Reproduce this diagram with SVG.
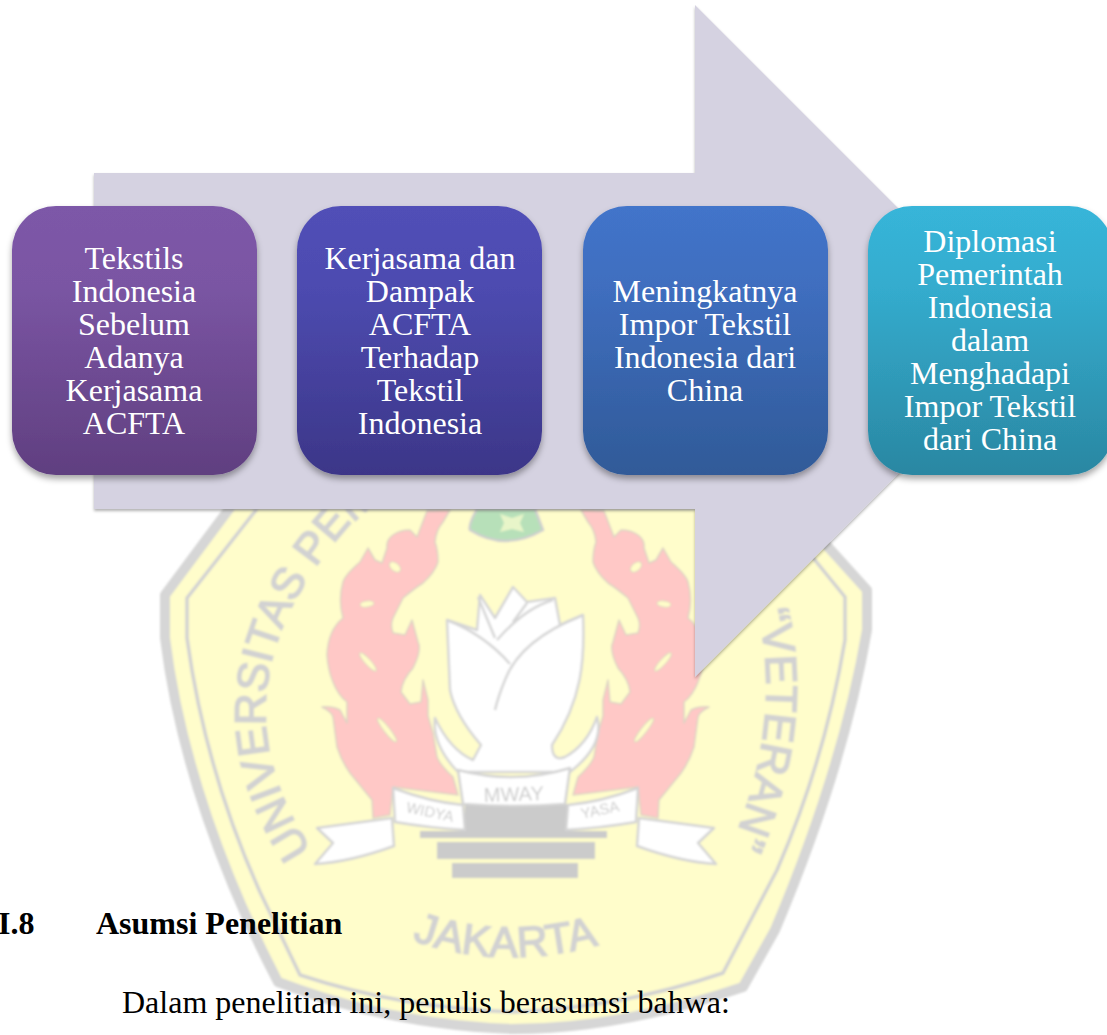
<svg xmlns="http://www.w3.org/2000/svg" xmlns:xlink="http://www.w3.org/1999/xlink" width="1107" height="1035" viewBox="0 0 1107 1035">
<style>
.n{font-family:"Liberation Serif","Times New Roman",serif;font-size:32px;fill:#fff;text-anchor:middle}
.b{font-family:"Liberation Serif","Times New Roman",serif;font-size:32px;fill:#000}
.w{font-family:"Liberation Sans",Arial,sans-serif;fill:#d2d2d2;stroke:#d2d2d2;stroke-width:1.6}
.l{font-family:"Liberation Sans",Arial,sans-serif;fill:#cdcdcd;text-anchor:middle}
.r{fill:#fff;stroke:#d4d4d4;stroke-width:2.5;stroke-linejoin:round}
.f{fill:#ffc8c6;stroke:#ddd4c4;stroke-width:1.5;stroke-linejoin:round}
.h{fill:#fffdc9;stroke:#ddd9c0;stroke-width:1}
.g{fill:#cbcbcb}
</style>
<defs>
<linearGradient id="g1" x1="0" y1="0" x2="0" y2="1"><stop offset="0" stop-color="#7d58a8"/><stop offset=".3" stop-color="#7a55a3"/><stop offset="1" stop-color="#603f80"/></linearGradient>
<linearGradient id="g2" x1="0" y1="0" x2="0" y2="1"><stop offset="0" stop-color="#514fb7"/><stop offset=".3" stop-color="#4d4bb0"/><stop offset="1" stop-color="#3c3688"/></linearGradient>
<linearGradient id="g3" x1="0" y1="0" x2="0" y2="1"><stop offset="0" stop-color="#4274ca"/><stop offset=".3" stop-color="#3f6ebf"/><stop offset="1" stop-color="#305a98"/></linearGradient>
<linearGradient id="g4" x1="0" y1="0" x2="0" y2="1"><stop offset="0" stop-color="#37b5d9"/><stop offset=".3" stop-color="#34acce"/><stop offset="1" stop-color="#2a87a2"/></linearGradient>
<filter id="s" x="-10%" y="-10%" width="120%" height="120%"><feDropShadow dx="0" dy="4" stdDeviation="3" flood-color="#000" flood-opacity=".35"/></filter>
<filter id="sa" x="-5%" y="-5%" width="110%" height="110%"><feDropShadow dx="0" dy="2" stdDeviation="1.5" flood-color="#000" flood-opacity=".3"/></filter>
<filter id="bl" x="-5%" y="-5%" width="110%" height="110%"><feGaussianBlur stdDeviation="1"/></filter>
<g id="half">
<path class="f" d="M450 510 L427 511 L417 537 L410 530 Q400 530 393 535 Q386 540 387 548 L382 563 L375 560 L368 548 L360 562 Q345 575 343 582 Q338 600 343 618 Q328 630 327 655 Q328 670 333 682 Q338 695 347 702 L347 723 L340 710 Q332 706 322 707 Q332 712 333 717 L337 747 Q342 762 350 773 L372 800 L373 818 L390 815 L393 787 L458 795 L453 777 Q440 765 437 757 L433 733 L428 716 L428 700 L423 680 L421 702 L410 704 L401 692 Q402 680 413 668 Q422 650 418 642 L412 620 L405 635 L393 633 Q390 625 393 618 L403 598 Q415 588 423 583 Q435 572 438 562 Q438 550 435 542 Q436 530 443 522Z"/>
<ellipse class="h" cx="395" cy="567" rx="6.5" ry="4" transform="rotate(40 395 567)"/>
<ellipse class="h" cx="367" cy="604" rx="7" ry="3" transform="rotate(-8 367 604)"/>
<ellipse class="h" cx="368" cy="662" rx="12" ry="3" transform="rotate(48 368 662)"/>
<ellipse class="h" cx="387" cy="730" rx="15" ry="3" transform="rotate(52 387 730)"/>
</g>
<g id="ribbon">
<path class="r" d="M393 788 Q430 802 463 805 L465 830 Q430 828 395 822Z"/>
<path class="r" d="M317 828 L392 818 L394 846 Q350 862 315 864 L333 843Z"/>
</g>
</defs>
<rect width="1107" height="1035" fill="#fff"/>
<g id="watermark" filter="url(#bl)">
<path d="M165 595 L232 505 H790 L867 590 L867 630 C855 700 830 800 775 930 L743 987 Q620 1029 513 1029 Q390 1025 278 982 C225 880 180 760 165 638Z" fill="#fffdcb" stroke="#d6d6d6" stroke-width="10" stroke-linejoin="round"/>
<path d="M187 598 L260 505 H770 L845 597 L845 640 Q825 760 777 870 L723 973 Q620 1008 513 1012 Q400 1008 300 975 L260 892 Q205 770 187 638Z" fill="none" stroke="#d2d2d2" stroke-width="3.5" stroke-linejoin="round"/>
<use xlink:href="#half"/>
<use xlink:href="#half" transform="translate(1031 0) scale(-1 1)"/>
<path d="M477 509 Q468 525 470 530 Q505 552 543 530 L535 509Z" fill="#b7e0b9" stroke="#cfcfcf" stroke-width="2.5"/>
<path d="M500 514 l12 4 l12 -4 l-4 9 l4 9 l-12 -3 l-12 3 l4 -9z" fill="#e8f5c9"/>
<path d="M447 620 L477 630 L480 595 L495 618 L513 587 L527 602 L555 598 L560 625 L583 615 C585 660 582 700 552 745 Q552 762 565 757 Q587 745 597 717 Q605 745 570 772 L458 772 Q432 745 435 718 Q450 750 473 760 L481 745 Q455 715 450 690Z" fill="#fff" stroke="#d6d6d6" stroke-width="2.5" stroke-linejoin="round"/>
<path d="M447 620 Q485 635 510 664 M583 615 Q520 640 505 680 Q498 697 495 710 M553 600 Q525 608 497 640 M478 597 L495 638 M527 603 L513 622" fill="none" stroke="#d6d6d6" stroke-width="2.5"/>
<rect class="g" x="465" y="804" width="102" height="30"/>
<rect class="g" x="420" y="831" width="187" height="7"/>
<rect class="g" x="437" y="842" width="158" height="17"/>
<rect class="g" x="452" y="863" width="126" height="15"/>
<path class="r" d="M458 770 Q515 785 570 768 L565 804 Q515 808 463 804Z"/>
<use xlink:href="#ribbon"/>
<use xlink:href="#ribbon" transform="translate(1031 0) scale(-1 1)"/>
<text class="l" x="514" y="801" font-size="20" transform="rotate(-2 514 801)">MWAY</text>
<text class="l" x="429" y="817" font-size="15" transform="rotate(12 429 817)">WIDYA</text>
<text class="l" x="601" y="815" font-size="15" transform="rotate(-12 601 815)">YASA</text>
<path id="a1" d="M312 850 Q205 690 345 530 L390 490" fill="none"/>
<path id="a2" d="M758 612 Q785 730 725 860" fill="none"/>
<path id="a3" d="M412 940 Q513 975 620 938" fill="none"/>
<text class="w" font-size="44"><textPath xlink:href="#a1">UNIVERSITAS PEM</textPath></text>
<text class="w" font-size="44"><textPath xlink:href="#a2">“VETERAN”</textPath></text>
<text class="w" font-size="43"><textPath xlink:href="#a3">JAKARTA</textPath></text>
</g>
<g id="connectors">
<path id="arrow" d="M94 173 H695 V5 L1031 341 L695 677 V509 H94Z" fill="#d5d2e1" filter="url(#sa)"/>
</g>
<g id="node1"><rect x="12" y="206" width="245" height="269" rx="44" fill="url(#g1)" filter="url(#s)"/>
<text class="n"><tspan x="134" y="269">Tekstils</tspan><tspan x="134" y="302">Indonesia</tspan><tspan x="134" y="335">Sebelum</tspan><tspan x="134" y="368">Adanya</tspan><tspan x="134" y="401">Kerjasama</tspan><tspan x="134" y="434">ACFTA</tspan></text></g>
<g id="node2"><rect x="297" y="206" width="245" height="269" rx="44" fill="url(#g2)" filter="url(#s)"/>
<text class="n"><tspan x="420" y="269">Kerjasama dan</tspan><tspan x="420" y="302">Dampak</tspan><tspan x="420" y="335">ACFTA</tspan><tspan x="420" y="368">Terhadap</tspan><tspan x="420" y="401">Tekstil</tspan><tspan x="420" y="434">Indonesia</tspan></text></g>
<g id="node3"><rect x="583" y="206" width="245" height="269" rx="44" fill="url(#g3)" filter="url(#s)"/>
<text class="n"><tspan x="705" y="302">Meningkatnya</tspan><tspan x="705" y="335">Impor Tekstil</tspan><tspan x="705" y="368">Indonesia dari</tspan><tspan x="705" y="401">China</tspan></text></g>
<g id="node4"><rect x="868" y="206" width="245" height="269" rx="44" fill="url(#g4)" filter="url(#s)"/>
<text class="n"><tspan x="990" y="252">Diplomasi</tspan><tspan x="990" y="285">Pemerintah</tspan><tspan x="990" y="318">Indonesia</tspan><tspan x="990" y="351">dalam</tspan><tspan x="990" y="384">Menghadapi</tspan><tspan x="990" y="417">Impor Tekstil</tspan><tspan x="990" y="450">dari China</tspan></text></g>
<text class="b" x="-2" y="934" font-weight="bold">I.8</text>
<text class="b" x="96" y="934" font-weight="bold">Asumsi Penelitian</text>
<text class="b" x="122" y="1013">Dalam penelitian ini, penulis berasumsi bahwa:</text>
</svg>
